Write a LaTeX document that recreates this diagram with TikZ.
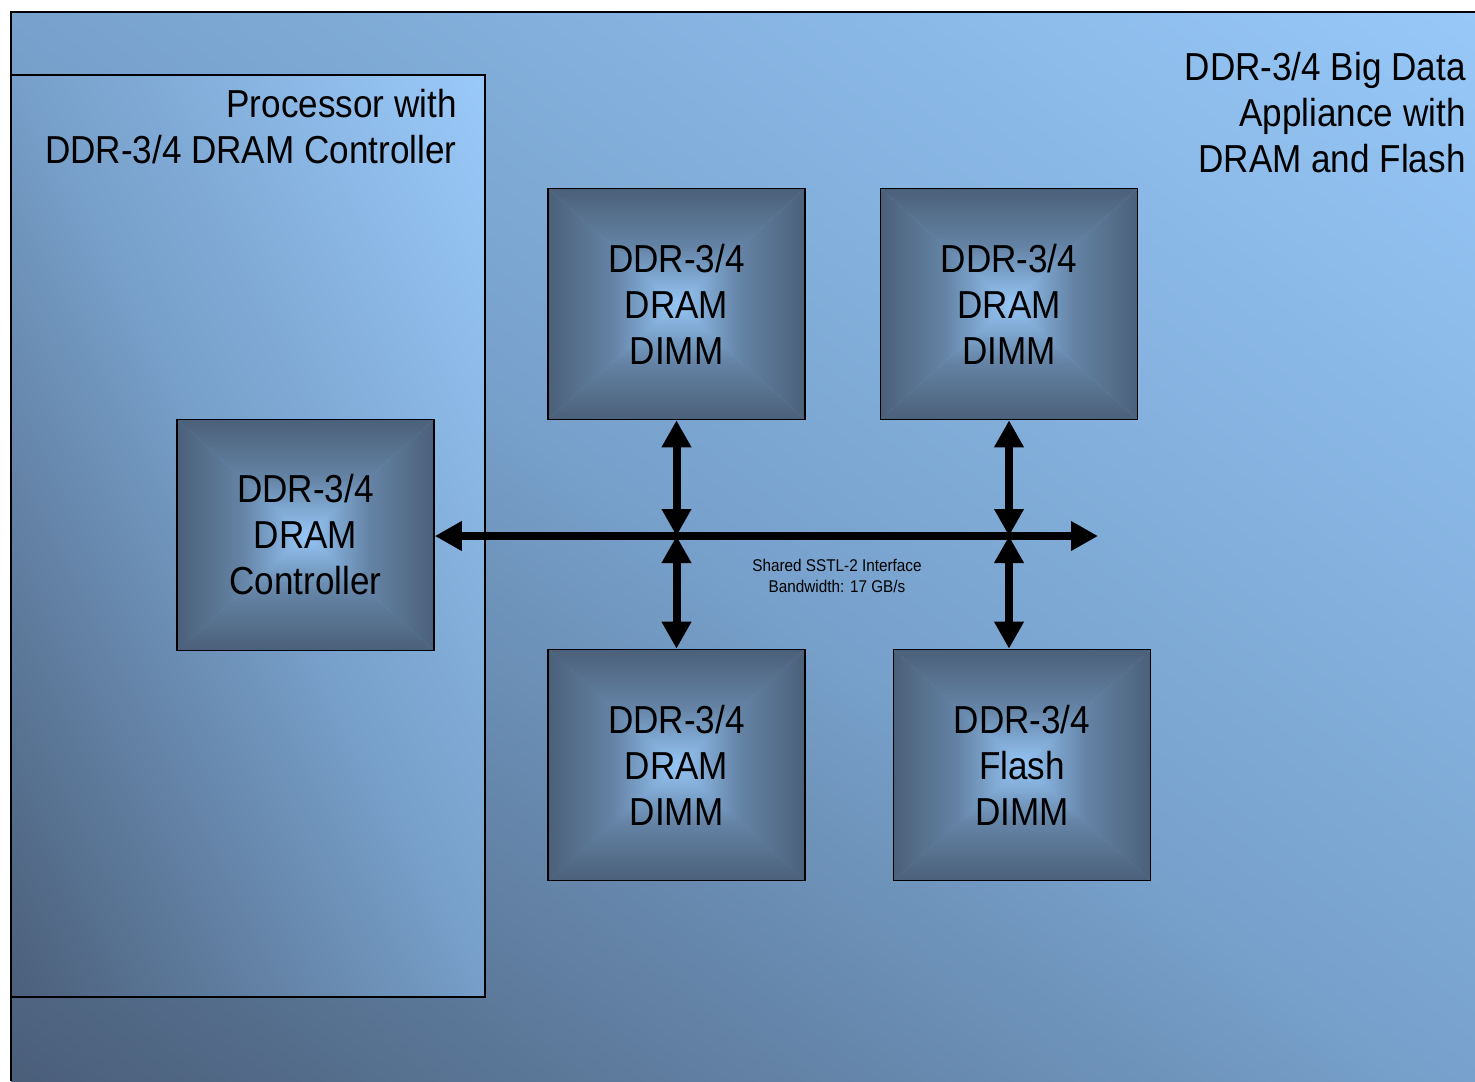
\documentclass[tikz,border=0pt]{standalone}
\usepackage{fontspec}
\setmainfont{Liberation Sans}[FakeStretch=0.9]
\usetikzlibrary{arrows.meta}

\definecolor{boxdark}{RGB}{75,96,121}
\definecolor{boxmid}{RGB}{100,131,165}
\definecolor{boxlight}{RGB}{150,198,246}
\definecolor{bgdark}{RGB}{74,94,121}
\definecolor{bgmid}{RGB}{120,162,205}
\definecolor{bglight}{RGB}{151,200,248}
\definecolor{procdark}{RGB}{75,95,122}
\definecolor{procmid}{RGB}{118,158,200}
\definecolor{proclight}{RGB}{154,202,250}

\newcommand\bigtext{\fontsize{19.5}{23}\selectfont}
\newcommand\smalltext{\fontsize{8.5}{10.5}\selectfont}

\tikzset{
  % four-sided "pyramid" shading: dark at the border, light in the middle
  pyramid/.style={path picture={
    \path (path picture bounding box.south west) coordinate (pp-sw)
          (path picture bounding box.north east) coordinate (pp-ne)
          (path picture bounding box.north west) coordinate (pp-nw)
          (path picture bounding box.south east) coordinate (pp-se)
          (path picture bounding box.center) coordinate (pp-c);
    \begin{scope}
      \clip (pp-sw) -- (pp-se) -- (pp-c) -- cycle;
      \shade[bottom color=boxdark, top color=boxlight, middle color=boxmid]
        (pp-sw) rectangle (pp-c -| pp-ne);
    \end{scope}
    \begin{scope}
      \clip (pp-nw) -- (pp-ne) -- (pp-c) -- cycle;
      \shade[top color=boxdark, bottom color=boxlight, middle color=boxmid]
        (pp-c -| pp-sw) rectangle (pp-ne);
    \end{scope}
    \begin{scope}
      \clip (pp-sw) -- (pp-nw) -- (pp-c) -- cycle;
      \shade[left color=boxdark, right color=boxlight, middle color=boxmid]
        (pp-sw) rectangle (pp-c |- pp-ne);
    \end{scope}
    \begin{scope}
      \clip (pp-se) -- (pp-ne) -- (pp-c) -- cycle;
      \shade[left color=boxlight, right color=boxdark, middle color=boxmid]
        (pp-c |- pp-sw) rectangle (pp-ne);
    \end{scope}
  }},
  unit/.style={pyramid, draw=black, line width=0.8pt, minimum width=128.5pt,
    minimum height=115.5pt, inner sep=0pt, align=center, font=\bigtext},
  title/.style={anchor=north east, align=right, inner sep=0pt, font=\bigtext},
  bus/.style={line width=4pt,
    {Triangle[length=13.5pt,width=14pt]}-{Triangle[length=13.5pt,width=14pt]}},
}

\begin{document}
\begin{tikzpicture}[x=0.5pt,y=-0.5pt]
\useasboundingbox (0,0) rectangle (1475,1081);

% appliance enclosure: diagonal gradient, dark lower left to light upper right
\begin{scope}
  \clip (11,12) rectangle (1475,1081);
  \begin{scope}[transform canvas={rotate around={53.8:(743,546.5)}}]
    \shade[left color=bgdark, right color=bglight, middle color=bgmid]
      (-121,-364) rectangle (1607,1457);
  \end{scope}
\end{scope}
\draw[line width=0.75pt] (11,1081) -- (11,12) -- (1475,12);

% processor: same kind of gradient, fitted to its own diagonal
\begin{scope}
  \clip (11,75) rectangle (485,997);
  \begin{scope}[transform canvas={rotate around={27.2:(248,536)}}]
    \shade[left color=procdark, right color=proclight, middle color=procmid]
      (-174,14) rectangle (670,1058);
  \end{scope}
\end{scope}
\draw[line width=0.75pt] (11,75) rectangle (485,997);

\node[title] (proc) at (457,89) {Processor with\\DDR-3/4 DRAM Controller};
\node[title] (appl) at (1466,52) {DDR-3/4 Big Data\\Appliance with\\DRAM and Flash};

% memory units
\node[unit] (ctrl)  at (305.5,535) {DDR-3/4\\DRAM\\Controller};
\node[unit] (dimmA) at (676.5,304) {DDR-3/4\\DRAM\\DIMM};
\node[unit] (dimmB) at (1009,304)  {DDR-3/4\\DRAM\\DIMM};
\node[unit] (dimmC) at (676.5,765) {DDR-3/4\\DRAM\\DIMM};
\node[unit] (flash) at (1022,765)  {DDR-3/4\\Flash\\DIMM};

% shared bus
\coordinate (busend) at (1098,536);
\coordinate (jA) at (dimmA.south |- busend);
\coordinate (jB) at (dimmB.south |- busend);
\coordinate (flashtop) at (jB |- flash.north);

\draw[bus] (ctrl.east |- busend) -- (busend);
\draw[bus] (dimmA.south) -- (jA);
\draw[bus] (jA) -- (dimmC.north);
\draw[bus] (dimmB.south) -- (jB);
\draw[bus] (jB) -- (flashtop);

\node[font=\smalltext, align=center, inner sep=0pt] (bw) at (837,576)
  {Shared SSTL-2 Interface\\Bandwidth: 17 GB/s};
\end{tikzpicture}
\end{document}
